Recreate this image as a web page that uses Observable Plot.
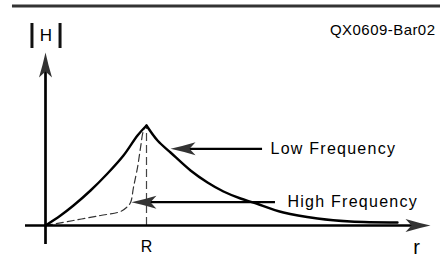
<!DOCTYPE html>
<html><head><meta charset="utf-8">
<script src="https://cdn.jsdelivr.net/npm/d3@7"></script>
<script src="https://cdn.jsdelivr.net/npm/@observablehq/plot@0.6"></script>
<style>
body{margin:0;background:#fff;}
</style></head><body><div id="chart"></div>
<script>
// Low-frequency response (solid): rising branch and decaying branch
const lowRiseR = [0, 0.149, 0.277, 0.446, 0.614, 0.772, 0.911, 1];
const lowRiseH = [0, 0.10, 0.20, 0.35, 0.52, 0.70, 0.90, 1];
const lowFallR = [1, 1.109, 1.238, 1.436, 1.604, 1.762, 1.931, 2.059, 2.356, 2.693, 3.020, 3.485];
const lowFallH = [1, 0.85, 0.73, 0.55, 0.43, 0.34, 0.27, 0.23, 0.13, 0.07, 0.04, 0.03];
// High-frequency response (dashed)
const highR = [0, 0.277, 0.545, 0.743, 0.802, 0.842, 0.871, 0.911, 0.941, 0.970, 1];
const highH = [0, 0.05, 0.10, 0.14, 0.18, 0.23, 0.38, 0.58, 0.78, 0.95, 1];
// Pointer annotations
const pointerLabels = ["Low Frequency", "High Frequency"];
const pointerTipR = [1.238, 0.851];
const pointerTipH = [0.767, 0.233];
// Tick / axis labels
const tickR = [1];
const tickLabels = ["R"];
const xAxisLabel = "r";
const yAxisLabel = "H";
const codeLabel = "QX0609-Bar02";

const lowData = [
  ...lowRiseR.map((r, i) => ({r, h: lowRiseH[i], s: "rise"})),
  ...lowFallR.map((r, i) => ({r, h: lowFallH[i], s: "fall"}))
];
const highData = highR.map((r, i) => ({r, h: highH[i]}));
const pointers = pointerLabels.map((label, i) => ({label, r: pointerTipR[i], h: pointerTipH[i]}));

// layout constants (data units: x px = 45 + 101*r, y px = 225 - 100*h)
const xAxisEnd = 3.812, xAxisStart = -0.198;
const yAxisEnd = 1.73, yAxisStart = -0.19;
const pointerEnds = [2.149, 2.277];
const labelStarts = [2.228, 2.396];

const arrowHead = {
  draw(ctx) {
    ctx.moveTo(0, 0);
    ctx.quadraticCurveTo(2.6, 12, 6.5, 25);
    ctx.lineTo(0, 19);
    ctx.lineTo(-6.5, 25);
    ctx.quadraticCurveTo(-2.6, 12, 0, 0);
    ctx.closePath();
  }
};
const heads = [
  {r: 0, h: yAxisEnd, a: 0},
  {r: xAxisEnd, h: 0, a: 90},
  ...pointers.map(p => ({r: p.r, h: p.h, a: -90}))
];

const font = "'Liberation Sans', Arial, sans-serif";

const chart = Plot.plot({
  width: 440, height: 263,
  marginTop: 0, marginRight: 0, marginBottom: 0, marginLeft: 0,
  x: {domain: [-45/101, 395/101], axis: null},
  y: {domain: [-0.38, 2.25], axis: null},
  style: {background: "#fff", fontFamily: font},
  marks: [
    Plot.ruleY([2.195], {x1: -0.327, x2: 3.911, stroke: "#333", strokeWidth: 3}),
    Plot.ruleX(tickR, {y1: 0, y2: 1, stroke: "#444", strokeWidth: 1.2, strokeDasharray: "8,4"}),
    Plot.line(highData, {x: "r", y: "h", curve: "catmull-rom", stroke: "#333", strokeWidth: 1.2, strokeDasharray: "7,4"}),
    Plot.line(lowData, {x: "r", y: "h", z: "s", curve: "catmull-rom", stroke: "#000", strokeWidth: 2.4}),
    Plot.ruleY([0], {x1: xAxisStart, x2: xAxisEnd - 0.12, stroke: "#000", strokeWidth: 2.7}),
    Plot.ruleX([0], {y1: yAxisStart, y2: yAxisEnd - 0.12, stroke: "#000", strokeWidth: 2.7}),
    Plot.ruleY(pointers, {y: "h", x1: d => d.r + 0.1, x2: (d, i) => pointerEnds[i], stroke: "#000", strokeWidth: 2.2}),
    Plot.dot(heads, {x: "r", y: "h", rotate: "a", symbol: arrowHead, fill: "#333", stroke: "none", r: 5}),
    Plot.text(pointers, {x: (d, i) => labelStarts[i], y: "h", text: "label", textAnchor: "start", fontSize: 16, fill: "#000"}),
    Plot.text(tickR, {x: d => d, y: -0.215, text: (d, i) => tickLabels[i], fontSize: 16, fill: "#000"}),
    Plot.text([xAxisLabel], {x: 3.673, y: -0.225, text: d => d, fontSize: 20, fill: "#000"}),
    Plot.ruleX([-0.134, 0.144], {y1: 1.77, y2: 2.02, stroke: "#111", strokeWidth: 3}),
    Plot.text([yAxisLabel], {x: 0.005, y: 1.895, text: d => d, fontSize: 17, fill: "#000"}),
    Plot.text([codeLabel], {x: 3.861, y: 1.95, text: d => d, textAnchor: "end", fontSize: 15, fill: "#000"})
  ]
});
// letter spacing to match the wide lettering of the reference
chart.querySelectorAll("text").forEach(t => {
  const s = t.textContent;
  if (pointerLabels.includes(s)) t.style.letterSpacing = "1.25px";
  else if (s === codeLabel) t.style.letterSpacing = "0.45px";
});
document.getElementById("chart").appendChild(chart);
</script></body></html>
